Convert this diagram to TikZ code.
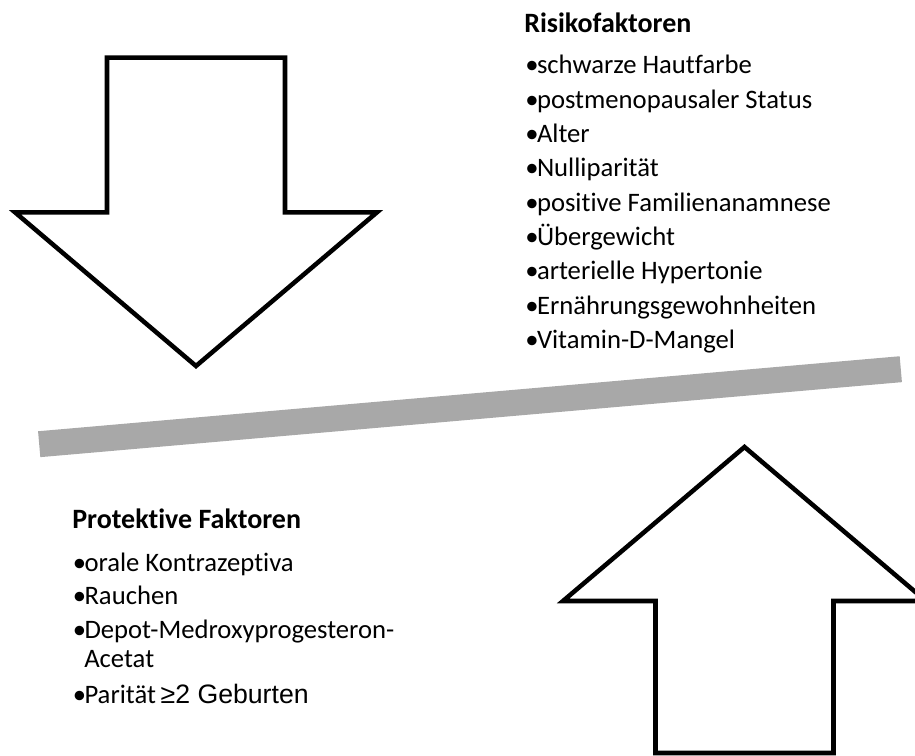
\documentclass[tikz,border=0pt]{standalone}
\usepackage{fontspec}
\setmainfont{Carlito}[RawFeature={-liga;-clig}]
\newfontfamily\arialf{Liberation Sans}
\definecolor{barGray}{RGB}{168,168,168}
\newcommand\bul{\makebox[8.8pt][l]{•}}
\begin{document}
\begin{tikzpicture}[x=0.75pt,y=-0.75pt,
  bigarrow/.style={draw=black, line width=3.4pt, fill=white, line join=miter, miter limit=10},
  barline/.style={draw=barGray, line width=19.5pt, line cap=butt},
  txt/.style={anchor=base west, inner sep=0pt, font=\fontsize{20}{22}\selectfont},
  ttl/.style={anchor=base west, inner sep=0pt, font=\fontsize{21}{23}\selectfont\bfseries}]
\useasboundingbox (0,0) rectangle (915,756);
% gray bar
\coordinate (barL) at (39.2,444.2);
\coordinate (barR) at (900.8,369.2);
\draw[barline] (barL) -- (barR);
% down arrow
\draw[bigarrow] (107,57.7) -- (285,57.7) -- (285,212.3) -- (377,212.3) -- (196,366)
  -- (15,212.3) -- (107,212.3) -- cycle;
% up arrow
\draw[bigarrow] (744.5,447) -- (926,601) -- (833.5,601) -- (833.5,753) -- (655.5,753)
  -- (655.5,601) -- (563,601) -- cycle;
% Risk factors
\node[ttl] (rt) at (524,32.3) {Risikofaktoren};
\node[txt] (r1) at (525,74.0) {\bul schwarze Hautfarbe};
\node[txt] (r2) at (525,108.4) {\bul postmenopausaler Status};
\node[txt] (r3) at (525,142.7) {\bul Alter};
\node[txt] (r4) at (525,177.0) {\bul Nulliparität};
\node[txt] (r5) at (525,211.4) {\bul positive Familienanamnese};
\node[txt] (r6) at (525,245.7) {\bul Übergewicht};
\node[txt] (r7) at (525,280.0) {\bul arterielle Hypertonie};
\node[txt] (r8) at (525,314.4) {\bul Ernährungsgewohnheiten};
\node[txt] (r9) at (525,348.7) {\bul Vitamin-D-Mangel};
% Protective factors
\node[ttl] (pt) at (72,528.3) {Protektive Faktoren};
\node[txt] (p1) at (72.5,571) {\bul orale Kontrazeptiva};
\node[txt] (p2) at (72.5,604.5) {\bul Rauchen};
\node[txt] (p3) at (72.5,638) {\bul Depot-Medroxyprogesteron-};
\node[txt] (p3b) at (84,667) {Acetat};
\node[txt] (p4) at (72.5,703) {\bul Parität\hspace{-1pt} {\arialf ≥2 Geburten}};
\end{tikzpicture}
\end{document}
